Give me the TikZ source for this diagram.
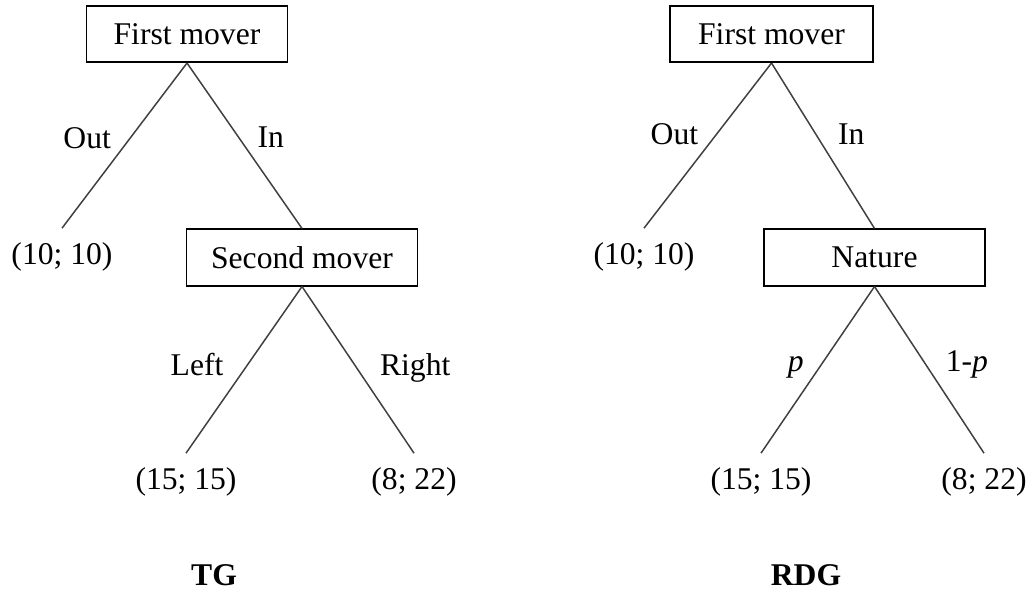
\documentclass[tikz,border=0pt]{standalone}
\usepackage{fontspec}
\setmainfont{Liberation Serif}
\begin{document}
\begin{tikzpicture}[x=0.02cm, y=-0.02cm,
            font=\fontsize{18}{21}\selectfont,
            mover/.style={draw, line width=0.9pt, rectangle, minimum height=1.13cm, inner sep=0pt},
            payoff/.style={minimum height=1.14cm, inner sep=0pt},
            lbl/.style={text height=0.68em, text depth=0.22em},
            branch/.style={draw=black!75, line width=0.85pt}]
            \useasboundingbox (0,0) rectangle (1030,592);

            % TG
            \node[mover, minimum width=4.02cm] (first1) at (187,34) {First mover};
            \node[mover, minimum width=4.62cm] (second1) at (302,257.5) {Second mover};
            \node[payoff] (out1) at (62,257) {(10; 10)};
            \node[payoff] (left1) at (186,482) {(15; 15)};
            \node[payoff] (right1) at (414,482) {(8; 22)};
            \node (tg) at (214,575) {\textbf{TG}};

            \draw[branch] (first1.south) -- (out1.north) node[lbl, midway, left=0.14cm, yshift=0.02cm] {Out};
            \draw[branch] (first1.south) -- (second1.north) node[lbl, midway, right=0.13cm, yshift=0.04cm] {In};
            \draw[branch] (second1.south) -- (left1.north) node[lbl, midway, left=0.28cm, yshift=-0.03cm] {Left};
            \draw[branch] (second1.south) -- (right1.north) node[lbl, midway, right=0.31cm, yshift=-0.03cm] {Right};

            % RDG
            \node[mover, minimum width=4.06cm] (first2) at (771.5,34) {First mover};
            \node[mover, minimum width=4.42cm] (nature) at (874.5,257.5) {Nature};
            \node[payoff] (out2) at (644,257) {(10; 10)};
            \node[payoff] (left2) at (761,482) {(15; 15)};
            \node[payoff] (right2) at (984,482) {(8; 22)};
            \node (rdg) at (806,575) {\textbf{RDG}};

            \draw[branch] (first2.south) -- (out2.north) node[lbl, midway, left=0.06cm, yshift=0.1cm] {Out};
            \draw[branch] (first2.south) -- (nature.north) node[lbl, midway, right=0.17cm, yshift=0.1cm] {In};
            \draw[branch] (nature.south) -- (left2.north) node[lbl, midway, left=0.15cm, yshift=0.04cm] {\textit{p}};
            \draw[branch] (nature.south) -- (right2.north) node[lbl, midway, right=0.2cm, yshift=0.04cm] {1-\textit{p}};
        \end{tikzpicture}
\end{document}
